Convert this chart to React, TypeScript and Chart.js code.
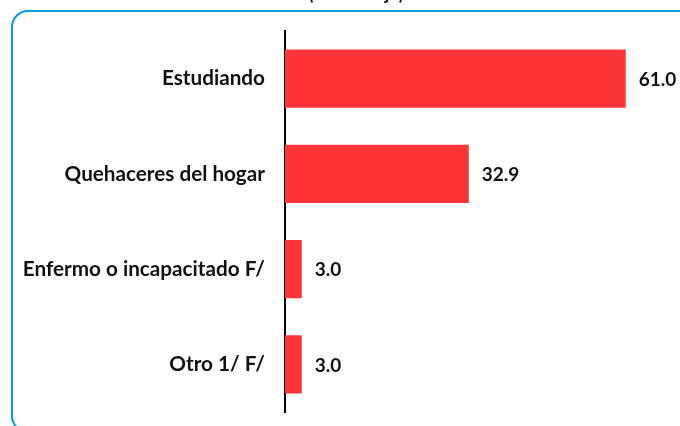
import React, { useEffect, useRef } from "react";
import { Chart, registerables } from "chart.js";

Chart.register(...registerables);

const categories = ["Estudiando", "Quehaceres del hogar", "Enfermo o incapacitado F/", "Otro 1/ F/"];
const values = [61.0, 32.9, 3.0, 3.0];
const valueLabels = ["61.0", "32.9", "3.0", "3.0"];
const topText = "(Porcentaje)";

const FONT = "Lato, 'Open Sans', sans-serif";

const framePlugin = {
  id: "frame",
  beforeDraw(chart: any) {
    const ctx = chart.ctx;
    ctx.save();
    ctx.strokeStyle = "#009ED8";
    ctx.lineWidth = 2;
    ctx.beginPath();
    (ctx as any).roundRect(12, 11, 700, 421, 16);
    ctx.stroke();
    ctx.fillStyle = "#111";
    ctx.font = `bold 18px ${FONT}`;
    ctx.textAlign = "center";
    ctx.textBaseline = "alphabetic";
    ctx.fillText(topText, 356, 0);
    ctx.restore();
  },
};

const valuePlugin = {
  id: "values",
  afterDatasetsDraw(chart: any) {
    const ctx = chart.ctx;
    const meta = chart.getDatasetMeta(0);
    ctx.save();
    ctx.fillStyle = "#111";
    ctx.font = `bold 19px ${FONT}`;
    ctx.textAlign = "left";
    ctx.textBaseline = "middle";
    meta.data.forEach((bar: any, i: number) => {
      ctx.fillText(valueLabels[i], bar.x + 13, bar.y + 1);
    });
    ctx.restore();
  },
};

export default function App() {
  const ref = useRef<HTMLCanvasElement>(null);
  useEffect(() => {
    if (!ref.current) return;
    const chart = new Chart(ref.current, {
      type: "bar",
      data: {
        labels: categories,
        datasets: [
          {
            data: values,
            backgroundColor: "#FF3436",
            borderWidth: 0,
            barPercentage: 0.61,
            categoryPercentage: 1,
          },
        ],
      },
      options: {
        indexAxis: "y",
        animation: false,
        responsive: false,
        maintainAspectRatio: false,
        layout: { padding: { top: 31, bottom: 14, left: 0, right: 4 } },
        plugins: { legend: { display: false }, tooltip: { enabled: false } },
        scales: {
          x: { display: false, min: 0, max: 70 },
          y: {
            afterFit(scale: any) {
              scale.width = 285;
              scale.paddingTop = 0;
              scale.paddingBottom = 0;
            },
            grid: { display: false, drawTicks: false },
            border: { display: true, color: "#000", width: 2 },
            ticks: {
              padding: 20,
              color: "#111",
              font: { family: FONT, size: 20.7, weight: "bold" },
            },
          },
        },
      },
      plugins: [framePlugin, valuePlugin],
    });
    return () => chart.destroy();
  }, []);
  return (
    <div style={{ position: "absolute", left: 0, top: 0, width: 680, height: 426, background: "#fff" }}>
      <canvas ref={ref} width={680} height={426} style={{ width: 680, height: 426 }} />
    </div>
  );
}
